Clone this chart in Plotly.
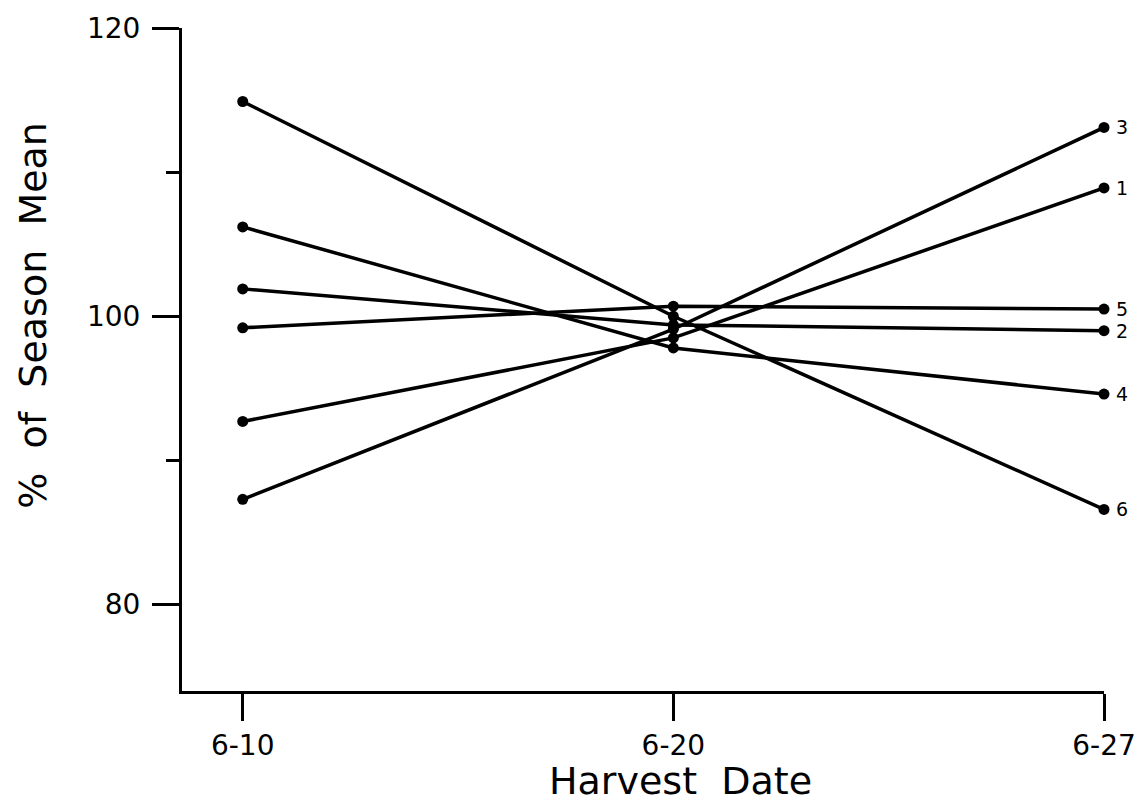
import plotly.graph_objects as go

dates = ["6-10", "6-20", "6-27"]
series_names = ["1", "2", "3", "4", "5", "6"]
s1 = [92.7, 98.5, 108.9]
s2 = [101.9, 99.4, 99.0]
s3 = [87.3, 99.1, 113.1]
s4 = [106.2, 97.8, 94.6]
s5 = [99.2, 100.7, 100.5]
s6 = [114.9, 100.0, 86.6]
series_values = [s1, s2, s3, s4, s5, s6]

y_major = [80, 100, 120]
y_minor = [90, 110]

FONT = "DejaVu Sans"
NB = "\u00a0"

fig = go.Figure()
for name, vals in zip(series_names, series_values):
    fig.add_trace(go.Scatter(
        x=dates, y=vals, mode="lines+markers", name=name,
        line=dict(color="black", width=3.5),
        marker=dict(color="black", size=11),
        cliponaxis=False, showlegend=False,
    ))
    fig.add_annotation(
        x=dates[-1], y=vals[-1], text=name, showarrow=False,
        xanchor="left", yanchor="middle", xshift=10,
        font=dict(family=FONT, size=19, color="black"),
    )

fig.add_annotation(
    xref="paper", yref="paper", x=-0.162, y=0.567,
    text=f"%{NB}{NB}of{NB}{NB}Season{NB}{NB}Mean", textangle=-90, showarrow=False,
    xanchor="center", yanchor="middle",
    font=dict(family=FONT, size=38, color="black"),
)
fig.add_annotation(
    xref="paper", yref="paper", x=0.541, y=-0.136,
    text=f"Harvest{NB}{NB}Date", showarrow=False,
    xanchor="center", yanchor="middle",
    font=dict(family=FONT, size=38, color="black"),
)

fig.update_layout(
    width=1148, height=811,
    margin=dict(l=182, r=40, t=19, b=120),
    paper_bgcolor="white", plot_bgcolor="white",
    font=dict(family=FONT, color="black"),
)
fig.update_xaxes(
    type="category", categoryorder="array", categoryarray=dates,
    range=[-0.141, 2.0],
    tickvals=dates, ticktext=dates,
    showline=True, linecolor="black", linewidth=3,
    ticks="outside", ticklen=27, tickwidth=3, tickcolor="black",
    showgrid=False, zeroline=False,
    tickfont=dict(family=FONT, size=28, color="black"),
)
fig.update_yaxes(
    range=[74, 120],
    tickvals=y_major, ticktext=[str(v) for v in y_major],
    showline=True, linecolor="black", linewidth=3,
    ticks="outside", ticklen=27, tickwidth=3, tickcolor="black",
    minor=dict(tickvals=y_minor, ticks="outside", ticklen=13, tickwidth=3, tickcolor="black", showgrid=False),
    showgrid=False, zeroline=False,
    tickfont=dict(family=FONT, size=28, color="black"),
    ticklabelstandoff=6,
)

fig.write_html("out.html")
